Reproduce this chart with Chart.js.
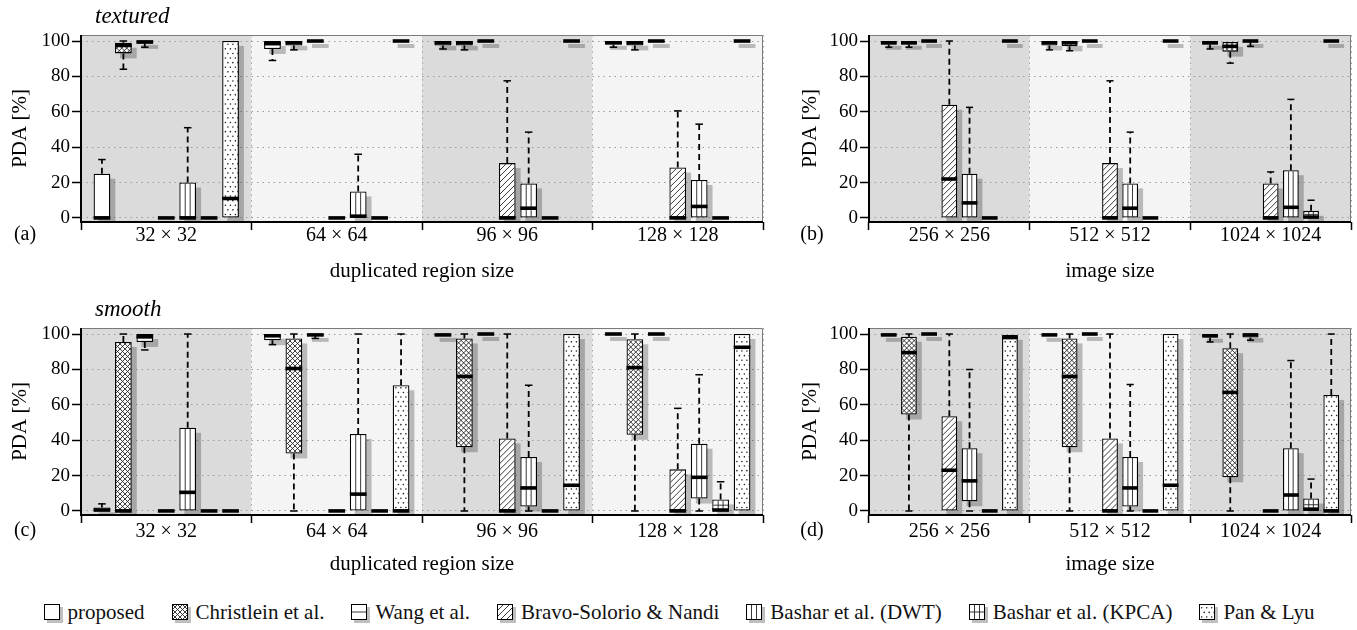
<!DOCTYPE html>
<html>
<head>
<meta charset="utf-8">
<title>PDA box plots</title>
<script src="https://cdn.jsdelivr.net/npm/chart.js@4.4.1/dist/chart.umd.min.js"></script>
<style>
  body { margin: 0; width: 1357px; height: 630px; background: #fff; position: relative; overflow: hidden; }
  canvas.panel { position: absolute; }
  #legend { position: absolute; left: 0; top: 600px; width: 1357px; display: flex; justify-content: center; align-items: center; gap: 26px;
            font-family: "Liberation Serif", "DejaVu Serif", serif; font-size: 21px; color: #111; }
  #legend .item { display: flex; align-items: center; gap: 5px; }
</style>
</head>
<body>
<canvas id="panelA" class="panel" width="775" height="290" style="left:0;top:0"></canvas>
<canvas id="panelB" class="panel" width="567" height="290" style="left:790px;top:0"></canvas>
<canvas id="panelC" class="panel" width="775" height="290" style="left:0;top:293px"></canvas>
<canvas id="panelD" class="panel" width="567" height="290" style="left:790px;top:293px"></canvas>
<div id="legend"></div>
<script>
const SERIF = '"Liberation Serif", "DejaVu Serif", serif';

const methods = ['proposed', 'Christlein et al.', 'Wang et al.', 'Bravo-Solorio & Nandi',
                 'Bashar et al. (DWT)', 'Bashar et al. (KPCA)', 'Pan & Lyu'];
const regionSizes = ['32 × 32', '64 × 64', '96 × 96', '128 × 128'];
const imageSizes = ['256 × 256', '512 × 512', '1024 × 1024'];
const yTicks = [0, 20, 40, 60, 80, 100];

// [min, q1, median, q3, max] per size, one row per method
const texturedRegion = [
  [[0, 0, 0, 25, 33], [89, 95.5, 98.5, 100, 100], [95.5, 97.5, 99, 100, 100], [96.5, 98, 99, 100, 100]],
  [[84, 93, 97.5, 99, 100], [95, 97.5, 99, 100, 100], [95, 97.5, 99, 100, 100], [95, 97.5, 99, 100, 100]],
  [[96.5, 98.5, 99.5, 100, 100], [99, 99.5, 100, 100, 100], [99.5, 99.5, 100, 100, 100], [99.5, 99.5, 100, 100, 100]],
  [[0, 0, 0, 0, 0], [0, 0, 0, 0, 0], [0, 0, 0, 31, 77.5], [0, 0, 0, 28.5, 60.5]],
  [[0, 0, 0, 20, 51], [0, 0, 1, 15, 36], [0, 0, 5.5, 19.5, 48.5], [0, 0, 6.5, 21.5, 53]],
  [[0, 0, 0, 0, 0], [0, 0, 0, 0, 0], [0, 0, 0, 0, 0], [0, 0, 0, 0, 0]],
  [[0, 0, 11, 100, 100], [100, 100, 100, 100, 100], [100, 100, 100, 100, 100], [100, 100, 100, 100, 100]]
];
const texturedImage = [
  [[96.5, 98, 99, 100, 100], [95, 97.5, 99, 100, 100], [95.5, 98, 99, 100, 100]],
  [[96.5, 98, 99, 100, 100], [94.5, 97, 99, 100, 100], [87.5, 94, 97, 99.5, 100]],
  [[99.5, 99.5, 100, 100, 100], [99.5, 99.5, 100, 100, 100], [97, 99.5, 100, 100, 100]],
  [[0, 0, 22, 64, 100], [0, 0, 0, 31, 77.5], [0, 0, 0, 19.5, 26]],
  [[0, 0, 8.5, 25, 62.5], [0, 0, 5.5, 19.5, 48.5], [0, 0, 6, 27, 67]],
  [[0, 0, 0, 0, 0], [0, 0, 0, 0, 0], [0, 0, 0.5, 4, 10]],
  [[100, 100, 100, 100, 100], [100, 100, 100, 100, 100], [100, 100, 100, 100, 100]]
];
const smoothRegion = [
  [[0, 0, 0.5, 2, 4], [94, 96.5, 99, 100, 100], [98.5, 99, 99.5, 100, 100], [99.5, 99.5, 100, 100, 100]],
  [[0, 0, 0, 95.5, 100], [0, 32.5, 80.5, 97.5, 100], [0, 36, 76, 97.5, 100], [0, 43, 81, 97, 100]],
  [[91, 95.5, 98.5, 100, 100], [97.5, 99, 99.5, 100, 100], [99.5, 99.5, 100, 100, 100], [99.5, 99.5, 100, 100, 100]],
  [[0, 0, 0, 0, 0], [0, 0, 0, 0, 0], [0, 0, 0, 41, 100], [0, 0, 0, 23.5, 58]],
  [[0, 0, 10.5, 47, 100], [0, 0, 9.5, 43.5, 100], [0, 2.5, 13, 30.5, 71], [0, 7, 19, 38, 77]],
  [[0, 0, 0, 0, 0], [0, 0, 0, 0, 0], [0, 0, 0, 0, 0], [0, 0, 0.5, 6.5, 16.5]],
  [[0, 0, 0, 0, 0], [0, 0, 0, 71, 100], [0, 0, 14.5, 100, 100], [0, 0, 92.5, 100, 100]]
];
const smoothImage = [
  [[99, 99, 99.5, 100, 100], [98.5, 99, 99.5, 100, 100], [95.5, 98, 99, 100, 100]],
  [[0, 54.5, 89.5, 98.5, 100], [0, 36, 76, 97.5, 100], [0, 19, 67, 92, 100]],
  [[99.5, 99.5, 100, 100, 100], [99.5, 99.5, 100, 100, 100], [96.5, 98, 99.5, 100, 100]],
  [[0, 0, 23, 53.5, 100], [0, 0, 0, 41, 100], [0, 0, 0, 0, 0]],
  [[0, 5.5, 17, 35.5, 80], [0, 2.5, 13, 30.5, 71.5], [0, 0, 9, 35.5, 85]],
  [[0, 0, 0, 0, 0], [0, 0, 0, 0, 0], [0, 0, 1, 7, 18]],
  [[0, 0, 98, 99.5, 100], [0, 0, 14.5, 100, 100], [0, 0, 0, 65.5, 100]]
];

// hatch / dot fills, one per method
function fillPattern(ctx, kind, x0, y0, w, h) {
  if (h < 1.5) return;
  ctx.save();
  ctx.beginPath();
  ctx.rect(x0, y0, w, h);
  ctx.clip();
  ctx.strokeStyle = '#222';
  ctx.fillStyle = '#222';
  ctx.lineWidth = 0.9;
  ctx.beginPath();
  if (kind === 1) {
    for (let t = -h; t < w + h; t += 5) {
      ctx.moveTo(x0 + t, y0 + h); ctx.lineTo(x0 + t + h, y0);
      ctx.moveTo(x0 + t, y0); ctx.lineTo(x0 + t + h, y0 + h);
    }
    ctx.stroke();
  } else if (kind === 2) {
    ctx.moveTo(x0, y0 + h / 2); ctx.lineTo(x0 + w, y0 + h / 2);
    ctx.stroke();
  } else if (kind === 3) {
    for (let t = -h; t < w + h; t += 6) {
      ctx.moveTo(x0 + t, y0 + h); ctx.lineTo(x0 + t + h, y0);
    }
    ctx.stroke();
  } else if (kind === 4 || kind === 5) {
    ctx.moveTo(x0 + w / 3, y0); ctx.lineTo(x0 + w / 3, y0 + h);
    ctx.moveTo(x0 + 2 * w / 3, y0); ctx.lineTo(x0 + 2 * w / 3, y0 + h);
    if (kind === 5) { ctx.moveTo(x0, y0 + h / 2); ctx.lineTo(x0 + w, y0 + h / 2); }
    ctx.stroke();
  } else if (kind === 6) {
    let r = 0;
    for (let yy = y0 + h - 2.5; yy > y0; yy -= 4.6, r++) {
      for (let xx = x0 + 2.2 + (r % 2) * 2.5; xx < x0 + w; xx += 5) {
        ctx.moveTo(xx + 0.8, yy);
        ctx.arc(xx, yy, 0.8, 0, Math.PI * 2);
      }
    }
    ctx.fill();
  }
  ctx.restore();
}

function eachBox(chart, fn) {
  chart.data.datasets.forEach((ds, di) => {
    chart.getDatasetMeta(di).data.forEach((bar, j) => fn(bar, ds.stats[j], ds.pattern));
  });
}

const boxPlugin = {
  id: 'boxes',
  beforeDraw(chart) {
    const {ctx, chartArea: a, scales: {x}} = chart;
    const step = x.getPixelForValue(1) - x.getPixelForValue(0);
    ctx.save();
    chart.data.labels.forEach((l, i) => {
      const c = x.getPixelForValue(i);
      ctx.fillStyle = i % 2 ? '#f4f4f4' : '#dbdbdb';
      ctx.fillRect(c - step / 2, a.top, step, a.bottom - a.top);
    });
    ctx.restore();
  },
  beforeDatasetsDraw(chart) {
    const {ctx, chartArea: a, scales: {y}} = chart;
    ctx.save();
    ctx.beginPath();
    ctx.rect(a.left, a.top, a.right - a.left, a.bottom - a.top);
    ctx.clip();
    ctx.fillStyle = 'rgba(0,0,0,0.24)';
    eachBox(chart, (bar, s) => {
      const top = Math.min(y.getPixelForValue(s[3]), y.getPixelForValue(s[2]) - 2);
      const bot = Math.max(y.getPixelForValue(s[1]), y.getPixelForValue(s[2]) + 2);
      ctx.fillRect(bar.x - bar.width / 2 + 5, top + 5, bar.width, bot - top);
    });
    ctx.restore();
  },
  afterDatasetsDraw(chart) {
    const {ctx, scales: {y}} = chart;
    ctx.save();
    eachBox(chart, (bar, s, kind) => {
      const w = bar.width, x0 = bar.x - w / 2;
      const yMin = y.getPixelForValue(s[0]), yQ1 = y.getPixelForValue(s[1]);
      const yMed = y.getPixelForValue(s[2]), yQ3 = y.getPixelForValue(s[3]);
      const yMax = y.getPixelForValue(s[4]);
      fillPattern(ctx, kind, x0 + 1, yQ3 + 1, w - 2, yQ1 - yQ3 - 2);
      ctx.strokeStyle = '#000';
      ctx.lineWidth = 1.8;
      ctx.setLineDash([6, 4]);
      ctx.beginPath();
      if (yQ3 - yMax > 1) { ctx.moveTo(bar.x, yQ3); ctx.lineTo(bar.x, yMax); }
      if (yMin - yQ1 > 1) { ctx.moveTo(bar.x, yQ1); ctx.lineTo(bar.x, yMin); }
      ctx.stroke();
      ctx.setLineDash([]);
      ctx.lineWidth = 1.5;
      ctx.beginPath();
      const cw = w * 0.45;
      if (yQ3 - yMax > 1) { ctx.moveTo(bar.x - cw / 2, yMax); ctx.lineTo(bar.x + cw / 2, yMax); }
      if (yMin - yQ1 > 1) { ctx.moveTo(bar.x - cw / 2, yMin); ctx.lineTo(bar.x + cw / 2, yMin); }
      ctx.stroke();
      ctx.lineWidth = 3.6;
      ctx.beginPath();
      ctx.moveTo(x0, yMed); ctx.lineTo(x0 + w, yMed);
      ctx.stroke();
    });
    ctx.restore();
  },
  afterDraw(chart, args, opts) {
    const {ctx, chartArea: a} = chart;
    ctx.save();
    ctx.strokeStyle = '#7a7a7a';
    ctx.lineWidth = 1;
    ctx.beginPath();
    ctx.moveTo(a.left, a.top + 0.5); ctx.lineTo(a.right - 0.5, a.top + 0.5); ctx.lineTo(a.right - 0.5, a.bottom);
    ctx.stroke();
    ctx.strokeStyle = '#000';
    ctx.lineWidth = 2;
    ctx.beginPath();
    ctx.moveTo(a.left, a.top); ctx.lineTo(a.left, a.bottom); ctx.lineTo(a.right, a.bottom);
    ctx.stroke();
    ctx.fillStyle = '#000';
    ctx.textBaseline = 'middle';
    if (opts.heading) {
      ctx.font = 'italic 23px ' + SERIF;
      ctx.textAlign = 'left';
      ctx.fillText(opts.heading, 95, 17);
    }
    ctx.font = '20px ' + SERIF;
    ctx.textAlign = 'center';
    ctx.fillText(opts.tag, opts.tagX, opts.tagY);
    ctx.restore();
  }
};

function makePanel(canvasId, labels, rows, cfg) {
  const datasets = methods.map((m, i) => ({
    label: m,
    data: rows[i].map(s => [s[1], s[3]]),
    stats: rows[i],
    pattern: i,
    backgroundColor: '#fff',
    borderColor: '#000',
    borderWidth: 1.3,
    borderSkipped: false,
    categoryPercentage: 0.88,
    barPercentage: 0.78
  }));
  return new Chart(document.getElementById(canvasId), {
    type: 'bar',
    data: { labels: labels, datasets: datasets },
    plugins: [boxPlugin],
    options: {
      responsive: false,
      animation: false,
      events: [],
      layout: { padding: { left: 0, top: 35, right: cfg.padRight, bottom: 0 } },
      plugins: {
        legend: { display: false },
        tooltip: { enabled: false },
        boxes: { tag: cfg.tag, tagX: cfg.tagX, tagY: cfg.tagY, heading: cfg.heading }
      },
      scales: {
        x: {
          afterFit: s => { s.height = 68; },
          grid: { offset: true, color: '#a5a5a5', tickColor: '#000', tickWidth: 1.5, tickLength: 8 },
          border: { display: false, dash: [1.5, 4] },
          ticks: { color: '#000', font: { family: SERIF, size: 20 }, padding: cfg.labelPad, maxRotation: 0, autoSkip: false },
          title: { display: true, text: cfg.xTitle, color: '#000', font: { family: SERIF, size: 21 }, padding: { top: 0, bottom: 6 } }
        },
        y: {
          min: -2.3,
          max: 103.4,
          afterBuildTicks: s => { s.ticks = yTicks.map(v => ({ value: v })); },
          afterFit: s => { s.width = cfg.yWidth; },
          grid: { color: '#9d9d9d', tickColor: '#000', tickWidth: 1.5, tickLength: 9 },
          border: { display: false, dash: [1.5, 4] },
          ticks: { color: '#000', font: { family: SERIF, size: 19 }, padding: 2 },
          title: { display: true, text: 'PDA [%]', color: '#000', font: { family: SERIF, size: 21 }, padding: { top: 8, bottom: 0 } }
        }
      }
    }
  });
}

makePanel('panelA', regionSizes, texturedRegion, { tag: '(a)', tagX: 25, tagY: 235, labelPad: -6, heading: 'textured', padRight: 12, yWidth: 81, xTitle: 'duplicated region size' });
makePanel('panelB', imageSizes, texturedImage, { tag: '(b)', tagX: 22, tagY: 235, labelPad: -6, heading: '', padRight: 6, yWidth: 79, xTitle: 'image size' });
makePanel('panelC', regionSizes, smoothRegion, { tag: '(c)', tagX: 25, tagY: 238, labelPad: -3, heading: 'smooth', padRight: 12, yWidth: 81, xTitle: 'duplicated region size' });
makePanel('panelD', imageSizes, smoothImage, { tag: '(d)', tagX: 22, tagY: 238, labelPad: -3, heading: '', padRight: 6, yWidth: 79, xTitle: 'image size' });

// legend
const legend = document.getElementById('legend');
methods.forEach((m, i) => {
  const item = document.createElement('span');
  item.className = 'item';
  const sw = document.createElement('canvas');
  sw.width = 20; sw.height = 20;
  const c = sw.getContext('2d');
  c.fillStyle = 'rgba(0,0,0,0.25)';
  c.fillRect(4, 4, 16, 16);
  c.fillStyle = '#fff';
  c.fillRect(1, 1, 16, 16);
  fillPattern(c, i, 1.5, 1.5, 15, 15);
  c.strokeStyle = '#000';
  c.lineWidth = 1;
  c.strokeRect(1.5, 1.5, 15, 15);
  const t = document.createElement('span');
  t.textContent = m;
  item.appendChild(sw);
  item.appendChild(t);
  legend.appendChild(item);
});
</script>
</body>
</html>
